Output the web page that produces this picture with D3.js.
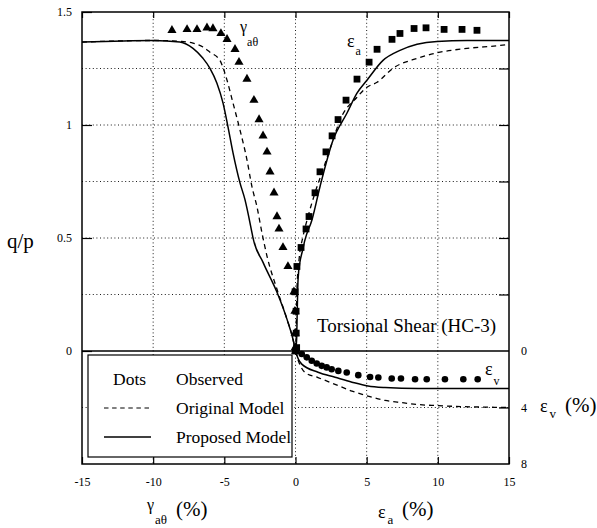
<!DOCTYPE html>
<html>
<head>
<meta charset="utf-8">
<script src="https://cdn.jsdelivr.net/npm/d3@7"></script>
<style>
body { margin: 0; background: #fff; }
svg { display: block; font-family: "Liberation Serif", "DejaVu Serif", serif; }
</style>
</head>
<body>
<div id="chart"></div>
<script>
// observed q/p levels, shared by the gamma and eps_a test points
var qpObserved = [1.419, 1.423, 1.423, 1.430, 1.427, 1.405, 1.379, 1.335, 1.278, 1.203, 1.110, 1.024, 0.952, 0.881, 0.793, 0.700, 0.595, 0.540, 0.458, 0.374, 0.262, 0.176, 0.079, 0.015, 0];
var gammaObserved = [-8.68, -7.62, -6.92, -6.22, -5.80, -5.24, -4.81, -4.25, -3.97, -3.41, -2.92, -2.56, -2.28, -2.00, -1.79, -1.51, -1.30, -1.16, -0.88, -0.53, -0.11, -0.04, -0.03, -0.02, 0];
var epsAObserved = [12.75, 11.70, 10.44, 9.17, 8.33, 7.34, 6.78, 5.73, 5.17, 4.32, 3.55, 2.99, 2.57, 2.14, 1.72, 1.37, 0.95, 0.74, 0.39, 0.10, -0.03, 0.04, 0.05, 0.08, 0];

// observed volumetric strain
var epsAvObserved = [0.05, 0.44, 0.79, 1.14, 1.49, 1.84, 2.19, 2.54, 3.01, 3.60, 4.41, 5.24, 5.82, 6.76, 7.41, 8.40, 9.22, 10.50, 11.79, 12.80];
var epsVObserved = [0.0, 0.21, 0.45, 0.69, 0.88, 1.05, 1.16, 1.29, 1.41, 1.52, 1.71, 1.84, 1.88, 1.95, 1.95, 2.0, 2.0, 2.0, 2.0, 2.0];

// proposed model (solid)
var gammaProposed = [-15, -10, -8.12, -7.20, -6.50, -6.01, -5.52, -5.09, -4.74, -4.39, -3.90, -3.55, -3.06, -2.99, -2.28, -1.30, -0.60, -0.18, 0];
var qpGammaProposed = [1.367, 1.374, 1.367, 1.339, 1.295, 1.251, 1.185, 1.097, 0.991, 0.877, 0.744, 0.670, 0.524, 0.502, 0.392, 0.260, 0.141, 0.053, 0];
var epsAProposed = [0, 0.08, 0.12, 0.18, 0.32, 0.46, 0.67, 1.16, 1.72, 2.64, 3.62, 4.32, 5.02, 6.15, 7.34, 8.54, 9.94, 12.05, 15];
var qpEpsAProposed = [0, 0.053, 0.172, 0.317, 0.396, 0.436, 0.493, 0.581, 0.727, 0.934, 1.053, 1.141, 1.198, 1.286, 1.330, 1.357, 1.370, 1.374, 1.374];
var epsAvProposed = [0, 0.2, 0.44, 1.58, 2.78, 3.97, 5.09, 6.29, 8.61, 15];
var epsVProposed = [0, 0.57, 0.93, 1.5, 1.86, 2.21, 2.48, 2.59, 2.66, 2.66];

// original model (dashed)
var gammaOriginal = [-15, -10, -8, -7.20, -6.50, -6.01, -5.31, -4.81, -4.39, -3.90, -3.41, -3.06, -2.71, -2.36, -2.00, -1.30, -0.60, -0.18, 0];
var qpGammaOriginal = [1.367, 1.374, 1.370, 1.362, 1.345, 1.322, 1.286, 1.198, 1.097, 0.978, 0.846, 0.727, 0.639, 0.524, 0.419, 0.273, 0.141, 0.053, 0];
var epsAOriginal = [0, 0.04, 0.1, 0.25, 0.53, 0.88, 1.37, 1.93, 2.57, 3.13, 4.32, 5.02, 5.73, 6.85, 8.54, 10.15, 12.05, 14.37, 15];
var qpEpsAOriginal = [0, 0.053, 0.273, 0.405, 0.507, 0.595, 0.700, 0.802, 0.921, 1.022, 1.123, 1.167, 1.189, 1.251, 1.295, 1.322, 1.339, 1.352, 1.357];
var epsAvOriginal = [0, 0.2, 0.39, 0.67, 1.58, 2.78, 3.97, 5.09, 6.29, 7.48, 8.61, 9.80, 11.0, 15];
var epsVOriginal = [0, 0.69, 1.14, 1.52, 1.88, 2.36, 2.84, 3.19, 3.5, 3.66, 3.79, 3.86, 3.91, 4.0];

// ticks
var xTicks = [-15, -10, -5, 0, 5, 10, 15];
var yTicks = [0, 0.5, 1, 1.5];
var yGrid = [0.25, 0.5, 0.75, 1, 1.25];
var evTicks = [0, 4, 8];
var evGrid = [4];

var width = 597, height = 528;
var plotLeft = 82, plotRight = 509, plotTop = 12, plotBottom = 464;
var serif = '"Liberation Serif", "DejaVu Serif", serif';

var svg = d3.select('#chart').append('svg')
    .attr('width', width)
    .attr('height', height)
    .attr('font-family', serif);

var x = d3.scaleLinear().domain([-15, 15]).range([plotLeft, plotRight]);
var y = d3.scaleLinear().domain([-0.5, 1.5]).range([plotBottom, plotTop]);
var ev = d3.scaleLinear().domain([0, 8]).range([y(0), plotBottom]);

var dotted = '1,2.6';

//grid lines
var grid = svg.append('g').attr('stroke', '#000').attr('stroke-width', 0.9).attr('stroke-dasharray', dotted);
grid.selectAll('line.h')
    .data(yGrid)
    .enter()
    .append('line')
    .attr('x1', plotLeft).attr('x2', plotRight)
    .attr('y1', function(d){ return y(d); })
    .attr('y2', function(d){ return y(d); });
grid.selectAll('line.ev')
    .data(evGrid)
    .enter()
    .append('line')
    .attr('x1', plotLeft).attr('x2', plotRight)
    .attr('y1', function(d){ return ev(d); })
    .attr('y2', function(d){ return ev(d); });
grid.selectAll('line.v')
    .data([-10, -5, 0, 5, 10])
    .enter()
    .append('line')
    .attr('y1', plotTop).attr('y2', plotBottom)
    .attr('x1', function(d){ return x(d); })
    .attr('x2', function(d){ return x(d); });

//legend box covers the grid
svg.append('rect')
    .attr('x', 88).attr('y', 355)
    .attr('width', 204).attr('height', 102)
    .attr('fill', '#fff')
    .attr('stroke', '#000')
    .attr('stroke-width', 1.2);

//axes, ticks pointing inwards
function styleAxis(g){
    g.attr('font-family', serif);
    g.select('.domain').remove();
    g.selectAll('line').attr('stroke', '#000').attr('stroke-width', 1.2);
    g.selectAll('text').attr('font-size', 12).attr('fill', '#000');
}

svg.append('g')
    .attr('transform', 'translate(' + plotLeft + ',0)')
    .call(d3.axisLeft(y).tickValues(yTicks).tickSize(-10).tickPadding(10).tickFormat(function(d){ return d; }))
    .call(styleAxis);

svg.append('g')
    .attr('transform', 'translate(0,' + plotBottom + ')')
    .call(d3.axisBottom(x).tickValues(xTicks).tickSize(-7).tickPadding(13).tickFormat(function(d){ return d; }))
    .call(styleAxis);

svg.append('g')
    .attr('transform', 'translate(0,' + plotTop + ')')
    .call(d3.axisTop(x).tickValues(xTicks).tickSize(-6).tickFormat(''))
    .call(styleAxis);

svg.append('g')
    .attr('transform', 'translate(' + plotRight + ',0)')
    .call(d3.axisRight(y).tickValues(yGrid).tickSize(-10).tickFormat(''))
    .call(styleAxis);

svg.append('g')
    .attr('transform', 'translate(' + plotRight + ',0)')
    .call(d3.axisRight(ev).tickValues(evTicks).tickSize(0).tickPadding(12).tickFormat(function(d){ return d; }))
    .call(styleAxis);

svg.append('g')
    .attr('transform', 'translate(' + plotRight + ',0)')
    .call(d3.axisRight(ev).tickValues(evGrid).tickSize(-10).tickFormat(''))
    .call(styleAxis);

//frame and zero line
svg.append('rect')
    .attr('x', plotLeft).attr('y', plotTop)
    .attr('width', plotRight - plotLeft).attr('height', plotBottom - plotTop)
    .attr('fill', 'none')
    .attr('stroke', '#000')
    .attr('stroke-width', 1.5);

svg.append('line')
    .attr('x1', plotLeft).attr('x2', plotRight)
    .attr('y1', y(0)).attr('y2', y(0))
    .attr('stroke', '#000')
    .attr('stroke-width', 1.5);

//model curves
function zip(xs, ys){
    return xs.map(function(d, i){ return [d, ys[i]]; });
}

var lineQ = d3.line()
    .x(function(d){ return x(d[0]); })
    .y(function(d){ return y(d[1]); })
    .curve(d3.curveMonotoneX);

var lineV = d3.line()
    .x(function(d){ return x(d[0]); })
    .y(function(d){ return ev(d[1]); })
    .curve(d3.curveMonotoneX);

var curves = [
    {line: lineQ, data: zip(gammaOriginal, qpGammaOriginal), dash: '5,4'},
    {line: lineQ, data: zip(epsAOriginal, qpEpsAOriginal), dash: '5,4'},
    {line: lineV, data: zip(epsAvOriginal, epsVOriginal), dash: '5,4'},
    {line: lineQ, data: zip(gammaProposed, qpGammaProposed), dash: null},
    {line: lineQ, data: zip(epsAProposed, qpEpsAProposed), dash: null},
    {line: lineV, data: zip(epsAvProposed, epsVProposed), dash: null}
];

svg.selectAll('path.model')
    .data(curves)
    .enter()
    .append('path')
    .attr('class', 'model')
    .attr('fill', 'none')
    .attr('stroke', '#000')
    .attr('stroke-width', function(d){ return d.dash ? 1.3 : 1.5; })
    .attr('stroke-dasharray', function(d){ return d.dash; })
    .attr('d', function(d){ return d.line(d.data); });

//observed points
svg.selectAll('path.tri')
    .data(zip(gammaObserved, qpObserved))
    .enter()
    .append('path')
    .attr('d', d3.symbol().type(d3.symbolTriangle).size(36))
    .attr('transform', function(d){ return 'translate(' + x(d[0]) + ',' + y(d[1]) + ')'; })
    .attr('fill', '#000');

svg.selectAll('rect.sq')
    .data(zip(epsAObserved, qpObserved))
    .enter()
    .append('rect')
    .attr('x', function(d){ return x(d[0]) - 3.4; })
    .attr('y', function(d){ return y(d[1]) - 3.4; })
    .attr('width', 6.8)
    .attr('height', 6.8)
    .attr('fill', '#000');

svg.selectAll('circle.ev')
    .data(zip(epsAvObserved, epsVObserved))
    .enter()
    .append('circle')
    .attr('cx', function(d){ return x(d[0]); })
    .attr('cy', function(d){ return ev(d[1]); })
    .attr('r', 3.3)
    .attr('fill', '#000');

//legend contents
var legendRows = [
    {sample: 'Dots', label: 'Observed', y: 385},
    {sample: 'dash', label: 'Original Model', y: 414},
    {sample: 'solid', label: 'Proposed Model', y: 443}
];

legendRows.forEach(function(r){
    if(r.sample === 'Dots'){
        svg.append('text').attr('x', 113).attr('y', r.y).attr('font-size', 17.5).text(r.sample);
    }else{
        svg.append('line')
            .attr('x1', 104).attr('x2', 151)
            .attr('y1', r.y - 6).attr('y2', r.y - 6)
            .attr('stroke', '#000')
            .attr('stroke-width', r.sample === 'dash' ? 1 : 1.3)
            .attr('stroke-dasharray', r.sample === 'dash' ? '4.5,3.6' : null);
    }
    svg.append('text').attr('x', 176).attr('y', r.y).attr('font-size', 17.5).text(r.label);
});

//annotations
svg.append('text')
    .attr('x', 317).attr('y', 332)
    .attr('font-size', 19)
    .text('Torsional Shear (HC-3)');

svg.append('text').attr('x', 7).attr('y', 248).attr('font-size', 21).text('q/p');

function subLabel(xp, yp, main, sub, size, subSize, dx, dy){
    var t = svg.append('text').attr('x', xp).attr('y', yp).attr('font-size', size);
    t.append('tspan').text(main);
    t.append('tspan').attr('dx', dx).attr('dy', dy).attr('font-size', subSize).text(sub);
    return t;
}

subLabel(240, 32, 'γ', 'aθ', 16, 12, 0, 14);
subLabel(347, 47, 'ε', 'a', 18, 12, 1, 8);
subLabel(485, 375, 'ε', 'v', 18, 12, 1, 10);

// axis titles
subLabel(147, 510, 'γ', 'aθ', 16, 13, 1, 14);
svg.append('text').attr('x', 176).attr('y', 516).attr('font-size', 21).text('(%)');

subLabel(378, 518, 'ε', 'a', 18, 13, 2, 6);
svg.append('text').attr('x', 402).attr('y', 516).attr('font-size', 21).text('(%)');

subLabel(540, 412, 'ε', 'v', 18, 13, 2, 6);
svg.append('text').attr('x', 565).attr('y', 412).attr('font-size', 21).text('(%)');
</script>
</body>
</html>
